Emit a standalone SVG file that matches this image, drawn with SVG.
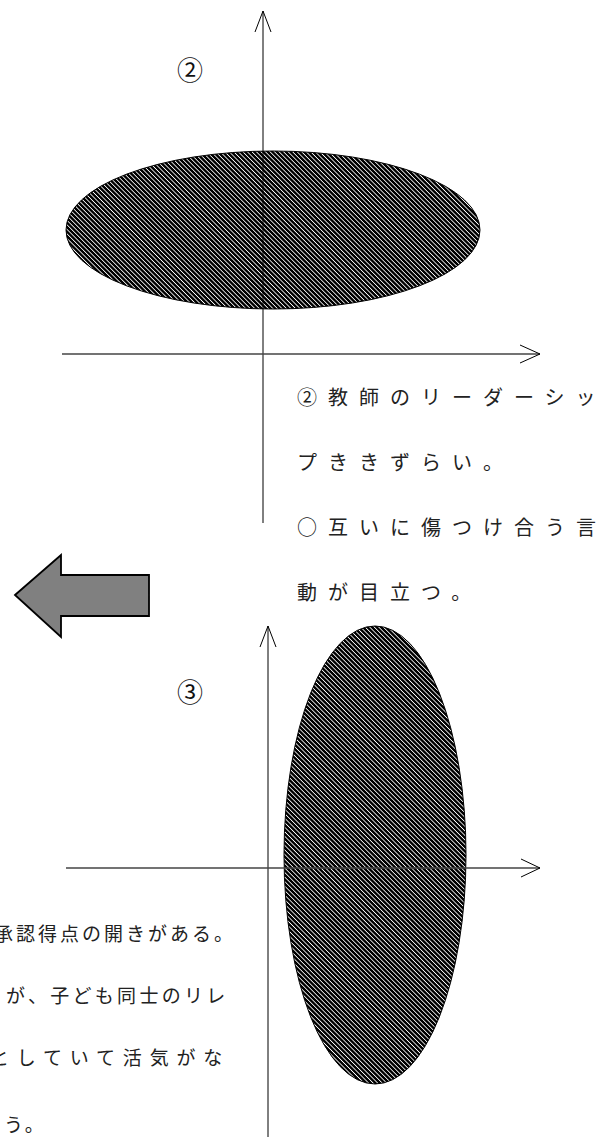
<svg xmlns="http://www.w3.org/2000/svg" width="609" height="1137" viewBox="0 0 609 1137">
  <style>
    .ax { stroke: #000; stroke-width: 1; fill: none; }
    .axh { stroke: #444; stroke-width: 1.4; fill: none; }
    .head { stroke: #000; stroke-width: 1; fill: none; }
    .el { fill: url(#hatch); stroke: #000; stroke-width: 1; }
    .lbl { font-family: "Noto Sans CJK JP", "Liberation Serif", sans-serif; font-size: 26px; fill: #111; }
    .t { font-family: "Noto Sans CJK JP", sans-serif; font-size: 20px; fill: #222; }
    .b { font-family: "Noto Sans CJK JP", sans-serif; font-size: 19px; fill: #222; }
  </style>
  <defs>
    <pattern id="hatch" patternUnits="userSpaceOnUse" width="3.2" height="3.2" patternTransform="rotate(-45)">
      <rect width="3.2" height="3.2" fill="#000"/>
      <rect width="0.8" height="3.2" fill="#fff"/>
    </pattern>
  </defs>
  <rect width="609" height="1137" fill="#fff"/>

  <g id="ellipse-2">
    <ellipse class="el" cx="273" cy="230" rx="207" ry="79"/>
  </g>
  <g id="ellipse-3">
    <ellipse class="el" cx="375" cy="855" rx="91" ry="229"/>
  </g>

  <g id="connectors">
    <line class="ax" x1="263" y1="11" x2="263" y2="523"/>
    <polyline class="head" points="255,32 263,11 271,32"/>
    <line class="axh" x1="62" y1="354" x2="540" y2="354"/>
    <polyline class="head" points="520,345 540,354 520,363"/>
    <line class="ax" x1="268" y1="626" x2="268" y2="1137"/>
    <polyline class="head" points="260,647 268,626 276,647"/>
    <line class="axh" x1="66" y1="868" x2="540" y2="868"/>
    <polyline class="head" points="521,859 540,868 521,877"/>
  </g>

  <g id="label-2">
    <text class="lbl" x="190" y="80" text-anchor="middle">②</text>
  </g>
  <g id="label-3">
    <text class="lbl" x="190" y="702" text-anchor="middle">③</text>
  </g>

  <g id="text-2">
    <text class="t" x="297" y="405" letter-spacing="11">②教師のリーダーシッ</text>
    <text class="t" x="297" y="470" letter-spacing="11">プききずらい。</text>
    <text class="t" x="297" y="535" letter-spacing="11">○互いに傷つけ合う言</text>
    <text class="t" x="297" y="600" letter-spacing="11">動が目立つ。</text>
  </g>

  <g id="big-arrow">
    <polygon points="15,595 61,555 61,575 149,575 149,616 61,616 61,637" fill="#808080" stroke="#000" stroke-width="1.8" stroke-linejoin="miter"/>
  </g>

  <g id="text-3">
    <text class="b" x="-6" y="941" letter-spacing="3">承認得点の開きがある。</text>
    <text class="b" x="6" y="1003" letter-spacing="3.3">が、子ども同士のリレ</text>
    <text class="b" x="-10" y="1065" letter-spacing="7.8">としていて活気がな</text>
    <text class="b" x="4" y="1132" letter-spacing="3">う。</text>
  </g>
</svg>
